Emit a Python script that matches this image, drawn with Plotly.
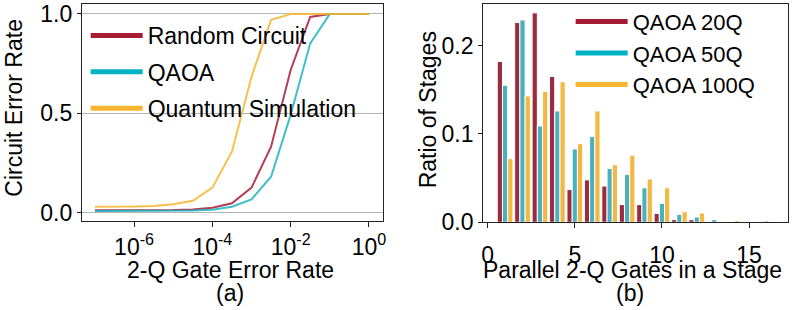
import plotly.graph_objects as go

# ---------------- data ----------------
gate_error_rate = [1e-7, 3.16e-7, 1e-6, 3.16e-6, 1e-5, 3.16e-5, 1e-4, 3.16e-4,
                   1e-3, 3.16e-3, 1e-2, 3.16e-2, 1e-1, 3.16e-1, 1.0]
random_circuit = [0.012, 0.012, 0.012, 0.012, 0.013, 0.016, 0.025, 0.047,
                  0.126, 0.332, 0.718, 0.985, 1.0, 1.0, 1.0]
qaoa = [0.008, 0.008, 0.008, 0.008, 0.009, 0.011, 0.015, 0.030,
        0.067, 0.181, 0.492, 0.852, 1.0, 1.0, 1.0]
quantum_sim = [0.030, 0.030, 0.031, 0.034, 0.042, 0.060, 0.126, 0.307,
               0.684, 0.970, 1.0, 1.0, 1.0, 1.0, 1.0]
left_series = ["Random Circuit", "QAOA", "Quantum Simulation"]
log_tickvals = [1e-6, 1e-4, 1e-2, 1.0]
log_ticktext = ["10<sup>-6</sup>", "10<sup>-4</sup>", "10<sup>-2</sup>", "10<sup>0</sup>"]
left_yticks = [0.0, 0.5, 1.0]

parallel_gates = list(range(1, 17))
qaoa_20q = [0.182, 0.226, 0.237, 0.165, 0.037, 0.048, 0.041, 0.020,
            0.020, 0.010, 0.003, 0.003, 0.0, 0.0, 0.0, 0.0]
qaoa_50q = [0.155, 0.229, 0.109, 0.126, 0.083, 0.097, 0.061, 0.054,
            0.039, 0.0215, 0.009, 0.006, 0.003, 0.0, 0.0, 0.0015]
qaoa_100q = [0.072, 0.143, 0.148, 0.159, 0.089, 0.126, 0.065, 0.076,
             0.049, 0.039, 0.012, 0.0105, 0.0, 0.002, 0.0, 0.0008]
right_series = ["QAOA 20Q", "QAOA 50Q", "QAOA 100Q"]
right_xticks = [0, 5, 10, 15]
right_yticks = [0.0, 0.1, 0.2]
right_xrange = [-0.25, 17.25]

LINE_COLORS = ["#A51F37", "#1FB3C4", "#F7B530"]
LEGEND_COLORS = ["#A51C35", "#00B3C4", "#F7B530"]
BAR_COLORS = ["#9B2C3E", "#4AAFBF", "#F1B844"]
FONT = "Liberation Sans, Arial, sans-serif"
FS = 23

fig = go.Figure()

# ---- left panel lines ----
for name, ys, c in zip(left_series, [random_circuit, qaoa, quantum_sim], LINE_COLORS):
    fig.add_trace(go.Scatter(x=gate_error_rate, y=ys, mode="lines",
                             line=dict(color=c, width=2), opacity=0.85,
                             showlegend=False, xaxis="x", yaxis="y"))
for i, (name, c) in enumerate(zip(left_series, LEGEND_COLORS)):
    fig.add_trace(go.Scatter(x=[None], y=[None], mode="lines", name=name,
                             line=dict(color=c, width=5),
                             legend="legend", legendgroup="L%d" % i,
                             xaxis="x", yaxis="y"))

# ---- right panel bars ----
for name, ys, c in zip(right_series, [qaoa_20q, qaoa_50q, qaoa_100q], BAR_COLORS):
    fig.add_trace(go.Bar(x=parallel_gates, y=ys, marker=dict(color=c,
                         line=dict(color="white", width=1)),
                         showlegend=False, xaxis="x2", yaxis="y2"))
for i, (name, c) in enumerate(zip(right_series, LEGEND_COLORS)):
    fig.add_trace(go.Scatter(x=[None], y=[None], mode="lines", name=name,
                             line=dict(color=c, width=5),
                             legend="legend2",
                             xaxis="x2", yaxis="y2"))
# empty trace so the tick-label axis (x3) has a subplot
fig.add_trace(go.Scatter(x=[None], y=[None], showlegend=False, hoverinfo="skip",
                         xaxis="x3", yaxis="y2"))

axis_common = dict(showline=True, mirror=True, linecolor="#222", linewidth=1.3,
                   ticks="outside", tickcolor="#222", tickfont=dict(size=FS, color="black"),
                   zeroline=False, automargin=False)

fig.update_layout(
    width=797, height=310,
    margin=dict(l=0, r=0, t=0, b=0),
    paper_bgcolor="white", plot_bgcolor="white",
    font=dict(family=FONT, size=FS, color="black"),
    barmode="group", bargap=0.1, bargroupgap=0.0,
    xaxis=dict(domain=[0.1029, 0.4806], type="log", range=[-7.33, 0.36],
               tickvals=log_tickvals, ticktext=log_ticktext, ticklen=5,
               showgrid=False, anchor="y", **axis_common),
    yaxis=dict(domain=[0.2871, 0.9871], range=[-0.042, 1.05],
               tickvals=left_yticks, ticktext=["%.1f" % v for v in left_yticks],
               ticklen=4, showgrid=True, gridcolor="#b5b5b5", gridwidth=1,
               anchor="x", **axis_common),
    xaxis2=dict(domain=[0.6064, 0.9891], range=right_xrange,
                tickvals=right_xticks, ticklen=5, showticklabels=False,
                showgrid=False, anchor="y2", **axis_common),
    xaxis3=dict(domain=[0.6064, 0.9891], range=right_xrange, overlaying="x2",
                anchor="free", position=0.229, side="bottom",
                tickvals=right_xticks, ticks="", showline=False, showgrid=False,
                zeroline=False, automargin=False,
                tickfont=dict(size=FS, color="black")),
    yaxis2=dict(domain=[0.2829, 0.9871], range=[0, 0.247],
                tickvals=right_yticks, ticktext=["%.1f" % v for v in right_yticks],
                ticklen=4, showgrid=False, anchor="x2", **axis_common),
    legend=dict(x=0.1075, y=0.955, xanchor="left", yanchor="top",
                bgcolor="rgba(0,0,0,0)", itemwidth=52, tracegroupgap=3.5,
                font=dict(size=FS, family=FONT)),
    legend2=dict(x=0.716, y=0.998, xanchor="left", yanchor="top",
                 bgcolor="rgba(0,0,0,0)", itemwidth=52,
                 font=dict(size=22, family=FONT)),
    annotations=[
        dict(text="2-Q Gate Error Rate", x=0.2898, y=0.129, xref="paper", yref="paper",
             showarrow=False, xanchor="center", yanchor="middle"),
        dict(text="(a)", x=0.2886, y=0.055, xref="paper", yref="paper",
             showarrow=False, xanchor="center", yanchor="middle"),
        dict(text="Circuit Error Rate", x=0.0165, y=0.653, xref="paper", yref="paper",
             showarrow=False, xanchor="center", yanchor="middle", textangle=-90),
        dict(text="Parallel 2-Q Gates in a Stage", x=0.794, y=0.129, xref="paper",
             yref="paper", showarrow=False, xanchor="center", yanchor="middle"),
        dict(text="(b)", x=0.7905, y=0.055, xref="paper", yref="paper",
             showarrow=False, xanchor="center", yanchor="middle"),
        dict(text="Ratio of Stages", x=0.5374, y=0.645, xref="paper", yref="paper",
             showarrow=False, xanchor="center", yanchor="middle", textangle=-90),
    ],
)

fig.write_html("out.html", config={"displayModeBar": False},
               post_script="document.body.style.margin='0';")
